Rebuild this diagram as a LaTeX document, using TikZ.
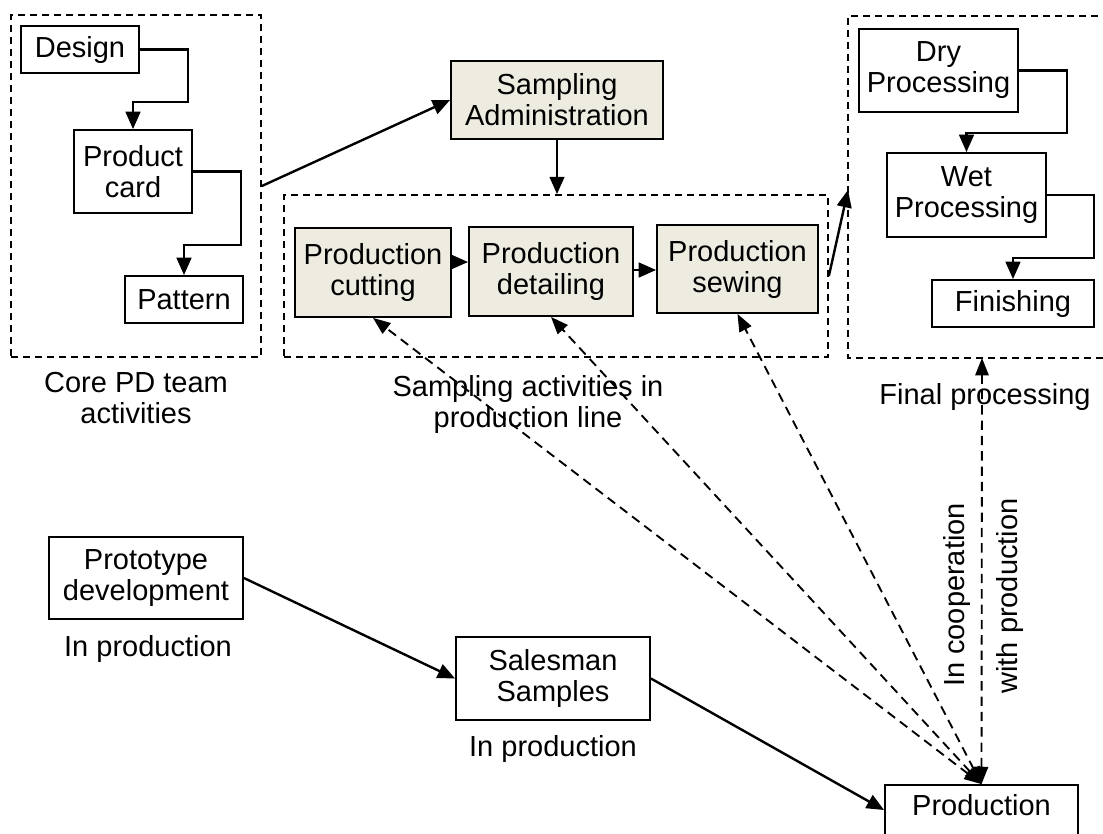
\documentclass[tikz,border=0pt]{standalone}
\usepackage{fontspec}
\setmainfont{Liberation Sans}
\usetikzlibrary{arrows.meta}
\definecolor{pdbeige}{HTML}{EEECE1}
\begin{document}
\begin{tikzpicture}[x=0.75pt,y=-0.75pt,
  every node/.style={font=\fontsize{21.75pt}{23.25pt}\selectfont, align=center, inner sep=0pt},
  box/.style={draw, line width=1.4pt, rectangle},
  shadebox/.style={box, fill=pdbeige},
  grp/.style={draw, line width=1.3pt, dash pattern=on 5.5pt off 3.5pt},
  flow/.style={line width=1.8pt, -{Triangle[length=13pt,width=11pt]}},
  link/.style={line width=1.4pt, dash pattern=on 7pt off 4.5pt,
    {Triangle[length=13pt,width=10pt]}-{Triangle[length=13pt,width=10pt]}}]
\useasboundingbox (0,0) rectangle (1103,833);
\clip (0,0) rectangle (1103,833);

% dashed group frames
\node[grp, minimum width=187.5pt, minimum height=256.5pt] (coregrp) at (136,186) {};
\node[grp, minimum width=408pt, minimum height=121.5pt] (prodline) at (556,276) {};
\coordinate (fgNE) at (1110,16);
\coordinate (fgNW) at (848,16);
\coordinate (fgSW) at (848,358);
\coordinate (fgSE) at (1110,358);
\draw[grp] (fgNE) -- (fgNW) -- (fgSW) -- (fgSE);
\coordinate (fgin) at (848,190);
\coordinate (fgbot) at (982,358);

% core PD team
\node[box, minimum width=88.5pt, minimum height=35.25pt] (design) at (80,49.5) {Design};
\node[box, minimum width=88.5pt, minimum height=62.25pt] (pcard) at (133,171.5) {Product\\card};
\node[box, minimum width=88.5pt, minimum height=35.25pt] (pattern) at (184,299.5) {Pattern};

% sampling
\node[shadebox, minimum width=159pt, minimum height=58.5pt] (sampadm) at (557,100) {Sampling\\Administration};
\node[shadebox, minimum width=117pt, minimum height=66.75pt] (cut) at (373,272.5) {Production\\cutting};
\node[shadebox, minimum width=123pt, minimum height=66.75pt] (det) at (551,271.5) {Production\\detailing};
\node[shadebox, minimum width=120.75pt, minimum height=66pt] (sew) at (737.5,269) {Production\\sewing};

% final processing
\node[box, minimum width=119.25pt, minimum height=62.25pt] (dry) at (938.5,70.5) {Dry\\Processing};
\node[box, minimum width=119.25pt, minimum height=63pt] (wet) at (966.5,195) {Wet\\Processing};
\node[box, minimum width=121.5pt, minimum height=35.25pt] (fin) at (1013,303.5) {Finishing};

% lower row
\node[box, minimum width=145.5pt, minimum height=61.5pt] (proto) at (146,578) {Prototype\\development};
\node[box, minimum width=145.5pt, minimum height=62.25pt] (sales) at (553,678.5) {Salesman\\Samples};
\node[box, minimum width=144.75pt, minimum height=37.5pt, text depth=7.5pt] (prod) at (981.5,810) {Production};

% captions
\node (corelbl) at (136,398) {Core PD team\\activities};
\node (samplbl) at (528,404) {Sampling activities in\\production line};
\node (finallbl) at (985,397) {Final processing};
\node (protolbl) at (148,649) {In production};
\node (saleslbl) at (553,749) {In production};
\node[rotate=90] (coop1) at (957,595) {In cooperation};
\node[rotate=90] (coop2) at (1010,596) {with production};

% flow connectors
\draw[flow] (design.east) -- ++(48,0) -- ++(0,52.5) -| (pcard.north);
\draw[flow] (pcard.east) -- ++(48,0) -- ++(0,73.5) -| (pattern.north);
\draw[flow] (dry.east) -- ++(48,0) -- ++(0,62.5) -| (wet.north);
\draw[flow] (wet.east) -- ++(47,0) -- ++(0,63) -| (fin.north);
\draw[flow] (coregrp.east) -- (sampadm.west);
\draw[flow] (sampadm.south) -- (sampadm.south |- prodline.north);
\coordinate (rowa) at (0,262);
\coordinate (rowb) at (0,270);
\draw[flow] (cut.east |- rowa) -- (det.west |- rowa);
\draw[flow] (det.east |- rowb) -- (sew.west |- rowb);
\draw[flow] (prodline.east) -- (fgin);
\draw[flow] (proto.east) -- (sales.west);
\draw[flow] (sales.east) -- (prod.west);

% cooperation links
\draw[link] (prod.north) -- (cut.south);
\draw[link] (prod.north) -- (det.south);
\draw[link] (prod.north) -- (sew.south);
\draw[link] (prod.north) -- (fgbot);
\end{tikzpicture}
\end{document}
